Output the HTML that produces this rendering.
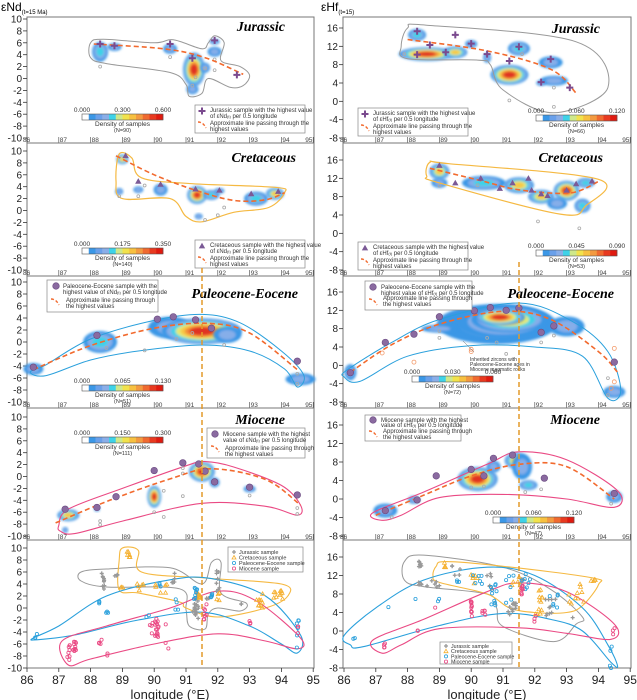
<!DOCTYPE html>
<html><head><meta charset="utf-8"><style>
html,body{margin:0;padding:0;background:#fff;}
svg{display:block;font-family:"Liberation Sans",sans-serif;}
</style></head><body>
<svg id="s" width="637" height="700" viewBox="0 0 637 700" xmlns="http://www.w3.org/2000/svg">
<defs><filter id="bl" x="-20%" y="-20%" width="140%" height="140%"><feGaussianBlur stdDeviation="1.2"/></filter></defs>
<text x="1" y="11" font-size="12">εNd<tspan font-size="6" dy="3">(t=15 Ma)</tspan></text>
<text x="321" y="11" font-size="12">εHf<tspan font-size="6" dy="3">(t=15)</tspan></text>
<g id="g"></g>
</svg>
<script>
(function(){
var out='';function A(s){out+=s;}
var lx=function(l){return 27+(l-86)*31.8;}, rx=function(l){return 344+(l-86)*31.8;};
var pt=[17,143,276,408,540], pb=[143,276,408,540,668];
var lt=[19,151,282,417,548], lb=[138,270,402,536,668];
var rt=[28,160,292,425,557], rb=[138,270,402,536,668];
var L=[],R=[];
for(var i=0;i<5;i++){(function(i){
 L.push({X:lx,Y:function(v){return lt[i]+(10-v)*(lb[i]-lt[i])/20;}});
 R.push({X:rx,Y:function(v){return rt[i]+(16-v)*(rb[i]-rt[i])/24;}});
})(i);}
function P(p,a){return a.map(function(q){return [p.X(q[0]),p.Y(q[1])];});}
function smooth(p,pts,closed){
 var q=P(p,pts),n=q.length,d='M'+q[0][0].toFixed(1)+','+q[0][1].toFixed(1);
 var m=closed?n:n-1;
 for(var i=0;i<m;i++){
  var p0=q[closed?(i-1+n)%n:Math.max(i-1,0)],p1=q[i],p2=q[(i+1)%n],p3=q[closed?(i+2)%n:Math.min(i+2,n-1)];
  var c1=[p1[0]+(p2[0]-p0[0])/6,p1[1]+(p2[1]-p0[1])/6],c2=[p2[0]-(p3[0]-p1[0])/6,p2[1]-(p3[1]-p1[1])/6];
  d+='C'+c1[0].toFixed(1)+','+c1[1].toFixed(1)+' '+c2[0].toFixed(1)+','+c2[1].toFixed(1)+' '+p2[0].toFixed(1)+','+p2[1].toFixed(1);
 }
 return d+(closed?'Z':'');
}
function outline(p,pts,col,w){A('<path d="'+smooth(p,pts,true)+'" fill="none" stroke="'+col+'" stroke-width="'+(w||1)+'"/>');}
function dash(p,pts){A('<path d="'+smooth(p,pts,false)+'" fill="none" stroke="#f26a2e" stroke-width="1.6" stroke-dasharray="5,3"/>');}
var BC=['#3b97e6','#86aee9','#3ed2e8','#e4ea76','#f7c845','#f28a3a','#e03020'];
function blob(p,l,v,rx,ry,lv){
 var n=[2,3,5,7][lv],x=p.X(l),y=p.Y(v),s='<g filter="url(#bl)">';
 for(var k=0;k<n;k++){var f=1-k*(0.8/ n);s+='<ellipse cx="'+x.toFixed(1)+'" cy="'+y.toFixed(1)+'" rx="'+(rx*f).toFixed(1)+'" ry="'+(ry*f).toFixed(1)+'" fill="'+BC[k]+'"/>';}
 A(s+'</g>');
}
function mk(t,x,y,c,sz){
 sz=sz||1;
 if(t=='cross')A('<path d="M'+(x-3.5)+','+y+'h7M'+x+','+(y-3.5)+'v7" stroke="#7a4a8e" stroke-width="2"/>');
 else if(t=='tri')A('<path d="M'+x+','+(y-3.2)+'L'+(x+3.2)+','+(y+2.4)+'L'+(x-3.2)+','+(y+2.4)+'Z" fill="#7b5a96"/>');
 else if(t=='circ')A('<circle cx="'+x+'" cy="'+y+'" r="3.3" fill="#8a6aa0" stroke="#6a4a80" stroke-width=".6"/>');
 else if(t=='dia')A('<circle cx="'+x+'" cy="'+y+'" r="'+(1.6*sz)+'" fill="none" stroke="'+c+'" stroke-width=".8"/>');
 else if(t=='jpl')A('<path d="M'+(x-2)+','+y+'h4M'+x+','+(y-2)+'v4" stroke="'+c+'" stroke-width="1.3"/>');
 else if(t=='ctri')A('<path d="M'+x+','+(y-2)+'L'+(x+2)+','+(y+1.5)+'L'+(x-2)+','+(y+1.5)+'Z" fill="none" stroke="'+c+'" stroke-width=".8"/>');
}
function mks(p,t,a,c){a.forEach(function(q){mk(t,p.X(q[0]),p.Y(q[1]),c);});}
function cbar(x,y,w,lab,N){
 var cols=['#fff','#3b97e6','#6aa0ea','#8aaee8','#3ed2e8','#cfe88a','#f2e24c','#f7c040','#f39a40','#f06a30','#e83a20','#e01a10'];
 var cw=w/cols.length;
 cols.forEach(function(c,i){A('<rect x="'+(x+i*cw)+'" y="'+y+'" width="'+(cw+.3)+'" height="6" fill="'+c+'"/>');});
 A('<rect x="'+x+'" y="'+y+'" width="'+w+'" height="6" fill="none" stroke="#555" stroke-width=".6"/>');
 A('<text x="'+x+'" y="'+(y-2)+'" font-size="6.5" text-anchor="middle" fill="#333">'+lab[0]+'</text><text x="'+(x+w/2)+'" y="'+(y-2)+'" font-size="6.5" text-anchor="middle" fill="#333">'+lab[1]+'</text><text x="'+(x+w)+'" y="'+(y-2)+'" font-size="6.5" text-anchor="middle" fill="#333">'+lab[2]+'</text>');
 A('<text x="'+(x+w/2)+'" y="'+(y+12)+'" font-size="6.5" text-anchor="middle" fill="#333">Density of samples</text><text x="'+(x+w/2)+'" y="'+(y+18)+'" font-size="5.5" text-anchor="middle" fill="#333">(N='+N+')</text>');
}
function legend(x,y,w,h,sym,l1,l2){
 A('<rect x="'+x+'" y="'+y+'" width="'+w+'" height="'+h+'" fill="#fff" stroke="#888" stroke-width=".7"/>');
 mk(sym,x+7,y+6);
 A('<text x="'+(x+15)+'" y="'+(y+7)+'" font-size="6" fill="#333">'+l1[0]+'</text><text x="'+(x+15)+'" y="'+(y+13)+'" font-size="6" fill="#333">'+l1[1]+'</text>');
 A('<path d="M'+(x+3)+','+(y+17)+'Q'+(x+8)+','+(y+17)+' '+(x+11)+','+(y+23)+'" fill="none" stroke="#f26a2e" stroke-width="1.4" stroke-dasharray="3,2"/>');
 A('<text x="'+(x+15)+'" y="'+(y+20)+'" font-size="6" fill="#333">Approximate line passing through the</text><text x="'+(x+15)+'" y="'+(y+26)+'" font-size="6" fill="#333">highest values</text>');
}
function title(x,y,t,it){A('<text x="'+x+'" y="'+y+'" font-family="Liberation Serif,serif" font-style="italic" font-weight="bold" font-size="14" text-anchor="end">'+t+'</text>');}
var sd=7;function rnd(){sd=(sd*16807)%2147483647;return (sd-1)/2147483646;}
function cl(p,t,c,l,v0,v1,n,sp){for(var i=0;i<n;i++){mk(t,p.X(l+(rnd()-.5)*(sp||.1)),p.Y(v0+(v1-v0)*rnd()),c);}}
function gray(p,a){a.forEach(function(q){mk('dia',p.X(q[0]),p.Y(q[1]),'#aaa',.9);});}

for(var i=0;i<5;i++){
 [[27,314,L[i],lt,lb,10,-10,2],[343,631,R[i],rt,rb,16,-8,4]].forEach(function(f,j){
  A('<rect x="'+f[0]+'" y="'+pt[i]+'" width="'+(f[1]-f[0])+'" height="'+(pb[i]-pt[i])+'" fill="none" stroke="#777" stroke-width="1"/>');
  for(var v=f[5];v>=f[6];v-=f[7]){var y=f[2].Y(v);
   A('<line x1="'+(f[0]-4)+'" y1="'+y+'" x2="'+f[0]+'" y2="'+y+'" stroke="#333" stroke-width=".8"/>');
   A('<text x="'+(f[0]-5)+'" y="'+(y+3.5)+'" font-size="10" text-anchor="end" fill="#222">'+v+'</text>');}
  for(var l=86;l<=95;l++){var x=f[2].X(l);
   if(i<4){A('<line x1="'+x+'" y1="'+(pb[i]-6)+'" x2="'+x+'" y2="'+pb[i]+'" stroke="#444" stroke-width=".6"/><text x="'+(x+(l==86?-4:l==95?-8:1))+'" y="'+(pb[i]-1)+'" font-size="6.5" fill="#444">'+l+'</text>');}
   else{A('<line x1="'+x+'" y1="668" x2="'+x+'" y2="672" stroke="#333" stroke-width=".8"/><text x="'+x+'" y="684" font-size="12" text-anchor="middle" fill="#222">'+l+'</text>');}
  }
 });
}
A('<text x="170" y="699" font-size="13" text-anchor="middle" fill="#222">longitude (°E)</text><text x="487" y="699" font-size="13" text-anchor="middle" fill="#222">longitude (°E)</text>');

var p=L[0];
[[88.3,4.5,8,10,1],[88.75,5.3,7,4,0],[90.5,5,7,5,0],[91.25,1.5,11,17,3],[91.6,1.8,5,5,0],[91.2,-1.8,6,5,0],[91.9,6.2,5,3,0],[91.9,4.5,7,5,0]].forEach(function(b){blob(p,b[0],b[1],b[2],b[3],b[4]);});
outline(p,[[88,6],[88.4,6.6],[90,6],[90.6,6.5],[91.5,5],[91.7,6],[91.9,7.2],[92.2,6],[92.1,3],[92.7,2],[93,0.5],[92.8,-1.2],[92.4,-1.5],[91.7,0],[91.5,-2.5],[91.1,-3],[91,-1],[90.5,1],[88.5,2.5],[88,3.5]],'#999');
gray(p,[[88.3,2],[90.5,3.6],[91.9,3.2],[91.9,1.4],[91.2,-1.2],[91.3,0.2],[91.6,1.7]]);
dash(p,[[88.1,5.8],[90.3,5],[91.6,3.5],[92.8,0.7]]);
mks(p,'cross',[[88.3,5.8],[88.75,5.5],[90.5,5.8],[91.2,3.4],[91.9,6.4],[92.6,0.6]]);
cbar(82,114,81,['0.000','0.300','0.600'],90);
legend(195,105,110,28,'cross',['Jurassic sample with the highest value','of εNd<tspan font-size="4">(t)</tspan> per 0.5 longitude']);
title(285,31,'Jurassic');

p=L[1];
[[89,8.6,6,5,2],[88.9,3.2,4,3.5,0],[89.5,3.5,5,3.5,0],[90.2,3.5,7,6,0],[91.35,2.6,10,9,3],[91.8,2.6,8,5,1],[92.05,3.3,5,3,0],[91.4,-1,4,3,0],[93.2,2,12,7,1],[93.8,2.8,9,6,2]].forEach(function(b){blob(p,b[0],b[1],b[2],b[3],b[4]);});
outline(p,[[88.9,9.5],[89.3,8.8],[89.6,5.5],[91.2,4.5],[93.8,3.9],[94.1,3],[93.6,0.5],[92.5,-0.3],[91.5,-1.9],[91,-1],[90.5,2],[89,2],[88.8,5]],'#f5b942',1.2);
gray(p,[[89.7,4.2],[88.9,2.4],[89.5,2.4],[92,-0.8],[91.6,-1.6],[92.2,0.5]]);
dash(p,[[88.8,9.2],[90,6],[91.3,3.4],[92.5,1.7],[93.5,1.8],[94.1,3]]);
mks(p,'tri',[[89.1,9.2],[89.5,4.9],[90.2,4.4],[91.3,3.6],[92.05,3.4],[93.05,2.8],[93.9,3.2]]);
cbar(82,248,81,['0.000','0.175','0.350'],140);
legend(195,240,110,28,'tri',['Cretaceous sample with the highest value','of εNd<tspan font-size="4">(t)</tspan> per 0.5 longitude']);
title(296,162,'Cretaceous');

p=L[2];
[[86.2,-4.5,10,6,0],[88.3,0,17,11,1],[90.5,2.4,22,11,0],[91.5,1.8,40,13,3],[92.3,1.2,14,8,0],[94.6,-6.2,15,6,0]].forEach(function(b){blob(p,b[0],b[1],b[2],b[3],b[4]);});
outline(p,[[86.1,-5],[86.6,-3.8],[88,0.5],[90,3.6],[91.5,4.6],[92.7,3.2],[94,-1.5],[94.7,-5.5],[94.5,-7.5],[94.1,-4.5],[93,-1.5],[91.5,-0.5],[89.5,-1.5],[88,-3],[86.6,-5.6]],'#2aa0dc');
gray(p,[[89.7,-1.4],[88.5,-1],[90.7,0.5],[91.2,1.5],[92.2,-0.5],[94.5,-5.3],[94.5,-7]]);
dash(p,[[86.2,-4.6],[88,-0.6],[90,2.3],[91.7,3.1],[93,1.5],[94.5,-4.6]]);
mks(p,'circ',[[86.2,-4.2],[88.2,1.1],[90.1,3.8],[90.6,4.2],[91.3,3.7],[91.8,2.3],[94.5,-3.2]]);
cbar(82,385,81,['0.000','0.065','0.130'],51);
A('<rect x="47" y="280" width="111" height="32" fill="#fff" stroke="#888" stroke-width=".7"/>');mk('circ',56,286);
A('<text x="63" y="288" font-size="6" fill="#333">Paleocene-Eocene sample with the</text><text x="63" y="294" font-size="6" fill="#333">highest value of εNd<tspan font-size="4">(t)</tspan> per 0.5 longitude</text><path d="M51,299Q56,299 59,305" fill="none" stroke="#f26a2e" stroke-width="1.4" stroke-dasharray="3,2"/><text x="66" y="302" font-size="6" fill="#333">Approximate line passing through</text><text x="66" y="308" font-size="6" fill="#333">the highest values</text>');
title(298,298,'Paleocene-Eocene');

p=L[3];
[[87.3,-6.5,11,6,2],[87.2,-9,3,3,0],[88.2,-5.4,3,3,0],[90,-3.4,7,11,3],[91.5,0.8,13,10,3],[91.9,-1,5,5,0],[93,-2.1,6,3.5,0]].forEach(function(b){blob(p,b[0],b[1],b[2],b[3],b[4]);});
outline(p,[[87,-8.2],[87.3,-5.5],[89,-2],[91,1.8],[91.6,2.5],[92.5,1.6],[94,-1.5],[94.6,-4.8],[94.5,-6.5],[93.5,-5],[91.5,-4.5],[89,-7.5],[87.5,-9.6],[87.05,-9.2]],'#ea4a84',1.1);
gray(p,[[88.3,-7.5],[88.3,-8.1],[90,-6],[90.3,-2.4],[90.3,-6.8],[90.9,-3.3],[90.9,0.5],[90.9,1.4],[94.5,-5.3],[94.5,-6.3],[93,-3.2]]);
dash(p,[[86.9,-7.8],[88.6,-4],[90.5,-0.4],[91.8,1.3],[93.5,-0.5],[94.6,-4.8]]);
mks(p,'circ',[[87.2,-5.5],[88.2,-5.2],[88.8,-3.4],[90,1],[90.9,2.3],[91.4,2.1],[91.6,0.9],[91.9,-0.9],[93,-1.8],[94.5,-3.1]]);
cbar(82,437,81,['0.000','0.150','0.300'],111);
A('<rect x="207" y="428" width="98" height="30" fill="#fff" stroke="#888" stroke-width=".7"/>');mk('circ',215,434);
A('<text x="223" y="436" font-size="6" fill="#333">Miocene  sample with the highest</text><text x="223" y="442" font-size="6" fill="#333">value of εNd<tspan font-size="4">(t)</tspan> per 0.5 longitude</text><path d="M211,446Q216,446 219,452" fill="none" stroke="#f26a2e" stroke-width="1.4" stroke-dasharray="3,2"/><text x="225" y="450" font-size="6" fill="#333">Approximate line passing through</text><text x="225" y="456" font-size="6" fill="#333">the highest values</text>');
title(285,424,'Miocene');

p=L[4];
outline(p,[[87.7,6],[88.5,6.5],[90.5,6.7],[91.5,4],[91.8,7.6],[92.1,7.6],[92.1,2.5],[92.9,0.8],[92.7,-0.5],[92,0],[91.7,-1],[91.6,-3.5],[91.1,-3],[91,-0.3],[90.8,3.2],[88.5,3.5],[87.7,4.5]],'#999');
outline(p,[[89,10],[89.5,9.6],[89.6,6],[91.6,5],[94,4],[94.2,2],[93.5,0],[92,-1.5],[91,0],[90.8,1],[89.5,2.5],[88.9,3],[88.9,8]],'#f5b942',1.1);
outline(p,[[86.2,-5],[87,-3],[88.5,2],[90.5,4.7],[91.8,4.9],[93.5,2],[94.6,-4.5],[94.5,-7.5],[94,-6],[93,-3],[91.5,-0.7],[89.5,-2],[87.5,-4.5],[86.3,-5.3]],'#2aa0dc',1.1);
outline(p,[[87.3,-9.5],[87.1,-5.5],[88.5,-3],[90.5,0],[92,2.8],[93.2,1.2],[94.6,-5],[94.5,-6.8],[93.5,-5.5],[92,-4.3],[90,-6],[88,-8.5]],'#ea4a84',1.1);
var J='#999',O='#f5b030',B='#2aa0dc',K='#ea4a84';
cl(p,'jpl',J,88.4,3,6,10);cl(p,'jpl',J,88.8,5,5.7,4);cl(p,'jpl',J,90.6,3.5,6,6);cl(p,'jpl',J,91.3,-2,3,20,.2);cl(p,'jpl',J,92,2.5,6.5,8);cl(p,'jpl',J,92.7,0.3,0.7,2);cl(p,'jpl',J,91.7,1.5,2,4);
cl(p,'ctri',O,89.2,8.2,9.5,6);cl(p,'ctri',O,89,2.5,3.5,3);cl(p,'ctri',O,89.6,2.5,4.5,5,.3);cl(p,'ctri',O,90.2,2.5,4,6,.4);cl(p,'ctri',O,91.4,1,3,8);cl(p,'ctri',O,92,1,2.5,4);cl(p,'ctri',O,93.3,0,2.5,10,.4);cl(p,'ctri',O,93.9,1.5,3,10,.3);
cl(p,'dia',B,86.3,-5,-4.3,3);cl(p,'dia',B,88.3,0.7,1.3,3);cl(p,'dia',B,88.5,-1,-0.5,3);cl(p,'dia',B,89.8,-1.6,-1.2,2);cl(p,'dia',B,90.2,3.5,4.2,3);cl(p,'dia',B,90.7,-0.5,2.5,4);cl(p,'dia',B,91.3,1.5,3.5,8);cl(p,'dia',B,91.8,1.3,2.5,5);cl(p,'dia',B,94.5,-7,-2,6);
cl(p,'dia',K,87.3,-9,-5.5,8);cl(p,'dia',K,87.5,-7.2,-5.5,10);cl(p,'dia',K,88.3,-6,-5,4);cl(p,'dia',K,88.5,-8,-7.3,2);cl(p,'dia',K,90,-5,-1.5,20,.3);cl(p,'dia',K,90.4,-7,-2.5,3);cl(p,'dia',K,91.6,-2,1,8);cl(p,'dia',K,93,-3,-2,3);cl(p,'dia',K,94.5,-6,-3,3);
A('<rect x="228" y="547" width="75" height="25" fill="#fff" stroke="#888" stroke-width=".7"/>');
[['jpl',J,'Jurassic sample'],['ctri',O,'Cretaceous sample'],['dia',B,'Paleocene-Eocene sample'],['dia',K,'Miocene  sample']].forEach(function(e,i){mk(e[0],234,552+i*5.5,e[1]);A('<text x="239" y="'+(554+i*5.5)+'" font-size="5.5" fill="#333">'+e[2]+'</text>');});

p=R[0];
[[88.3,14.5,9,6,1],[88.6,10.3,28,7,3],[89.5,10.7,12,6,2],[90,12.5,6,4,0],[90.5,9.5,4,5,0],[91.2,5.8,19,10,3],[91.5,11.5,11,7,1],[92.5,8.5,12,6,0],[92.6,4.5,14,5,0],[92.2,4,5,3,0]].forEach(function(b){blob(p,b[0],b[1],b[2],b[3],b[4]);});
outline(p,[[88,16],[88.6,16.6],[93.3,13],[94.3,3],[92.6,-2.5],[91,2.5],[90.6,8],[90.2,9],[88,9.3],[87.8,12]],'#999');
gray(p,[[91.2,0.2],[92.6,-1.2],[92.6,3],[87.9,10.3],[91.6,10.3]]);
dash(p,[[88,13.5],[90.5,11],[92.5,7],[93.3,1.8]]);
mks(p,'cross',[[88.3,15.3],[88.7,12.3],[89.5,14.5],[90,12.6],[90.5,10.3],[91.2,8.8],[91.5,11.9],[92.2,4.2],[92.5,9.2],[93.1,3]]);
mks(p,'cross',[[88.3,10.2],[89.2,10.7]]);
cbar(536,115,81,['0.000','0.060','0.120'],66);
legend(358,108,110,28,'cross',['Jurassic sample with the highest value','of εHf<tspan font-size="4">(t)</tspan> per 0.5 longitude']);
title(600,33,'Jurassic');

p=R[1];
[[89,13.5,10,8,2],[89,11,8,5,0],[90.4,11,22,7,1],[91.5,10.5,15,8,2],[92.2,8,13,7,2],[93,9.3,13,10,3],[93.5,6,8,7,1],[93.6,11,9,5,1],[92.7,6.5,10,6,0]].forEach(function(b){blob(p,b[0],b[1],b[2],b[3],b[4]);});
outline(p,[[88.7,15.5],[89.3,15.2],[94,11.8],[93.6,6],[92.8,4.2],[89,11],[88.6,12.5]],'#f5b942',1.2);
gray(p,[[92.1,2.6],[93.4,1.1],[90.2,10.5],[89,10.4]]);
dash(p,[[88.7,14.2],[90.3,11.5],[91.5,9.5],[93.1,8.8],[94,11.3]]);
mks(p,'tri',[[89,14.8],[89.5,11],[90.3,12],[90.9,9.8],[91.3,11],[91.8,12],[91.9,9.4],[92.2,8.6],[92.4,8.2],[93,9.4],[93.3,10.8],[93.8,11.4]]);
cbar(536,250,81,['0.000','0.045','0.090'],53);
legend(358,242,110,28,'tri',['Cretaceous sample with the highest value','of εHf<tspan font-size="4">(t)</tspan> per 0.5 longitude']);
title(603,162,'Cretaceous');

p=R[2];
[[86.2,-1.5,6,8,0],[90.8,9,60,20,0],[91,9.5,48,17,1],[91.2,10,38,13,2],[90.9,10.5,25,8,3],[93,8.5,18,10,0],[94.5,-5.8,11,6,0],[89,8,18,4,0]].forEach(function(b){blob(p,b[0],b[1],b[2],b[3],b[4]);});
outline(p,[[86.1,-1],[87.5,5],[89,10],[91.5,13.6],[93.2,9.5],[94.3,3],[94.7,-5.5],[94.3,-7.2],[93.5,2],[92,4],[90,4.3],[88,2],[86.5,-3.5],[86,-2.5]],'#2aa0dc');
A('<g fill="none" stroke="#f39a6a" stroke-width=".8">');
[[87.2,2.7],[88.2,0.7],[90,3.5],[90,3],[94.5,3.7],[94.5,-3.6],[94.4,-5]].forEach(function(q){A('<circle cx="'+p.X(q[0])+'" cy="'+p.Y(q[1])+'" r="2"/>');});A('</g>');
gray(p,[[89,6],[89,7.5],[90.5,6],[90.8,5],[91.1,2.5],[92.2,5],[92.6,6.5],[94.3,-2.8],[94.3,-6.5]]);
dash(p,[[86.2,-1.5],[87.5,4.5],[89,9],[91,11.8],[92.5,10],[94,3],[94.6,-1.5]]);
mks(p,'circ',[[86.2,-1.6],[87.3,5],[88.2,6.8],[89,10.6],[90.1,11.9],[90.6,12.6],[91.1,12],[91.5,12.5],[92.2,7.2],[92.6,8.6],[94.5,0.7]]);
A('<line x1="463" y1="341" x2="474" y2="352" stroke="#777" stroke-width=".5"/><text x="470" y="361" font-size="5" fill="#333">Inherited zircons with</text><text x="470" y="366" font-size="5" fill="#333">Paleocene-Eocene ages in</text><text x="470" y="371" font-size="5" fill="#333">Miocene magmatic rocks</text>');
cbar(412,376,81,['0.000','0.030','0.060'],72);
A('<rect x="365" y="281" width="107" height="29" fill="#fff" stroke="#888" stroke-width=".7"/>');mk('circ',373,287);
A('<text x="381" y="289" font-size="6" fill="#333">Paleocene-Eocene sample with the</text><text x="381" y="295" font-size="6" fill="#333">highest value of εHf<tspan font-size="4">(t)</tspan> per 0.5 longitude</text><path d="M369,299Q374,299 377,305" fill="none" stroke="#f26a2e" stroke-width="1.4" stroke-dasharray="3,2"/><text x="383" y="300" font-size="6" fill="#333">Approximate line passing through</text><text x="383" y="306" font-size="6" fill="#333">the highest values</text>');
title(614,298,'Paleocene-Eocene');

p=R[3];
[[87.3,-2.5,12,7,0],[88.2,-0.2,6,4,0],[90.2,4.3,20,12,3],[90.7,7,7,6,0],[91.4,8.3,11,8,2],[91.6,7,10,13,0],[91.8,3,9,5,1],[94.5,0.5,8,6,0]].forEach(function(b){blob(p,b[0],b[1],b[2],b[3],b[4]);});
outline(p,[[87.2,-4.6],[86.9,-3],[88.5,1.5],[90.5,7.5],[91.5,10.2],[93,8.5],[94.6,1.8],[94.5,-1.8],[93,0],[91,1],[89,0.3],[87.8,-3.5]],'#ea4a84',1.1);
gray(p,[[90,2.5],[90.4,2.7],[92.2,2.1],[91.7,1.5],[87.5,-3.9],[94.4,-1]]);
dash(p,[[87,-3.5],[88.5,0.8],[90,5],[91.5,7.5],[93,7],[94.5,0]]);
mks(p,'circ',[[87.3,-2.5],[88.3,-0.2],[88.9,5],[90,6.4],[90.4,5],[90.7,8.8],[91.3,9.5],[92.3,4.5],[94.5,1.2]]);
cbar(493,517,81,['0.000','0.060','0.120'],47);
A('<rect x="365" y="415" width="96" height="26" fill="#fff" stroke="#888" stroke-width=".7"/>');mk('circ',373,420);
A('<text x="381" y="422" font-size="6" fill="#333">Miocene  sample with the highest</text><text x="381" y="427" font-size="6" fill="#333">value of εHf<tspan font-size="4">(t)</tspan> per 0.5 longitude</text><path d="M369,431Q374,431 377,437" fill="none" stroke="#f26a2e" stroke-width="1.4" stroke-dasharray="3,2"/><text x="383" y="433" font-size="6" fill="#333">Approximate line passing through</text><text x="383" y="439" font-size="6" fill="#333">the highest values</text>');
title(600,424,'Miocene');

p=R[4];
outline(p,[[87.9,15],[88.5,16.4],[91,13.8],[92.5,9],[93.5,3],[93.3,1.5],[92.6,-2.3],[91,1],[90.8,5],[90.5,8],[88.5,9.6],[87.9,11]],'#999');
outline(p,[[88.9,14],[89.2,15],[91,14],[93.8,11.5],[94,10],[93.5,5.5],[93,4],[92,4],[91.2,5],[90.5,8],[89,10.5],[88.8,12]],'#f5b942',1.1);
outline(p,[[86.2,-3],[86.6,-3.4],[89,1.2],[91,3.8],[92.5,2.5],[93.5,0],[94.4,-6.8],[94.6,-7.5],[94.3,-3],[93.5,5],[92,12],[90.5,13.8],[88.5,11],[87,5],[86,-1]],'#2aa0dc',1.1);
outline(p,[[87.2,-4.8],[86.9,-2],[88.5,2.5],[90.5,8.5],[91.5,10.4],[93,8.5],[94.5,1.5],[94.4,-1.8],[93,-0.5],[91.5,0.7],[89,0.5],[87.8,-3]],'#ea4a84',1.1);
cl(p,'jpl',J,88.4,13.8,15.5,8);cl(p,'jpl',J,88.4,10,10.6,4);cl(p,'jpl',J,88.8,9.5,11,6,.4);cl(p,'jpl',J,89.5,11,14.5,5,.4);cl(p,'jpl',J,90.5,8.5,12.5,6,.4);cl(p,'jpl',J,91.3,3.5,6.5,14,.3);cl(p,'jpl',J,91.6,10,12,4);cl(p,'jpl',J,92.5,3,9,10,.4);cl(p,'jpl',J,93.2,2.8,3,1);
cl(p,'ctri',O,89.2,13.5,15,4);cl(p,'ctri',O,90,10,12.5,6,.5);cl(p,'ctri',O,91.4,9,12,6,.3);cl(p,'ctri',O,92.1,3.5,9,12,.4);cl(p,'ctri',O,93.3,4.5,10.5,10,.5);cl(p,'ctri',O,93.9,10.5,11.5,4,.3);
cl(p,'dia',B,86.3,-2,-1.5,2);cl(p,'dia',B,87.4,5,5.2,1);cl(p,'dia',B,88.2,6.8,7,1);cl(p,'dia',B,89,6,7.5,2);cl(p,'dia',B,89.6,10.5,11,3);cl(p,'dia',B,90.2,10,12.5,6,.3);cl(p,'dia',B,90.7,5.5,12,10,.2);cl(p,'dia',B,91.2,3,12,6,.3);cl(p,'dia',B,91.7,9,13,8,.3);cl(p,'dia',B,92.6,5,9,6,.3);cl(p,'dia',B,94.4,-8,-2.5,4);
cl(p,'dia',K,87.3,-4,-2,4);cl(p,'dia',K,88.3,-0.5,0.2,2);cl(p,'dia',K,88.9,5,5.2,1);cl(p,'dia',K,90,2.5,6.5,12,.05);cl(p,'dia',K,90.4,3.5,5,5);cl(p,'dia',K,91.6,7,10,8,.05);cl(p,'dia',K,92,2,3.5,3);cl(p,'dia',K,94.5,-1,1.5,3);
A('<rect x="440" y="642" width="72" height="22" fill="#fff" stroke="#888" stroke-width=".7"/>');
[['jpl',J,'Jurassic sample'],['ctri',O,'Cretaceous sample'],['dia',B,'Paleocene-Eocene sample'],['dia',K,'Miocene  sample']].forEach(function(e,i){mk(e[0],446,646+i*5.2,e[1]);A('<text x="451" y="'+(648+i*5.2)+'" font-size="5.3" fill="#333">'+e[2]+'</text>');});

A('<line x1="202" y1="268" x2="202" y2="668" stroke="#e39a2a" stroke-width="1.5" stroke-dasharray="5,3"/>');
A('<line x1="519" y1="262" x2="519" y2="668" stroke="#e39a2a" stroke-width="1.5" stroke-dasharray="5,3"/>');
document.getElementById('g').innerHTML=out;
})();
</script>
</body></html>
